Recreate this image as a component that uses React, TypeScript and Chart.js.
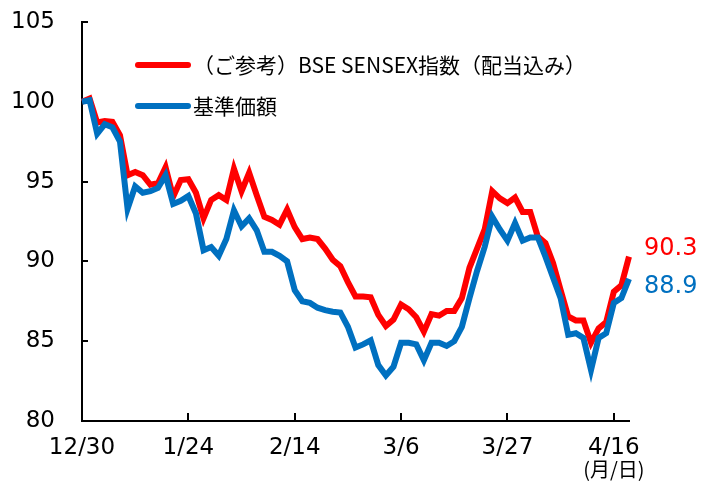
import React, { useEffect, useRef } from "react";
import { Chart, registerables } from "chart.js";

Chart.register(...registerables);

const dates = [
  "12/30",
  "1/6", "1/7", "1/8", "1/9", "1/10",
  "1/14", "1/15", "1/16", "1/17",
  "1/20", "1/21", "1/22", "1/23", "1/24",
  "1/27", "1/28", "1/29", "1/30", "1/31",
  "2/3", "2/4", "2/5", "2/6", "2/7",
  "2/10", "2/12", "2/13", "2/14",
  "2/17", "2/18", "2/19", "2/20", "2/21",
  "2/24", "2/25", "2/26", "2/27", "2/28",
  "3/3", "3/4", "3/5", "3/6",
  "3/7",
  "3/10", "3/11", "3/12", "3/13", "3/14",
  "3/17", "3/18", "3/19", "3/21",
  "3/24", "3/25", "3/26", "3/27",
  "3/28",
  "3/31", "4/1", "4/2", "4/3", "4/4",
  "4/7", "4/8", "4/9", "4/10", "4/11",
  "4/14", "4/15", "4/16",
  "4/17", "4/18",
];

const sensex = [
  100.0, 100.2, 98.7, 98.8, 98.75, 97.9, 95.4, 95.6, 95.4, 94.8,
  94.9, 95.9, 94.05, 95.1, 95.15, 94.3, 92.7, 93.85, 94.15, 93.85,
  95.8, 94.4, 95.55, 94.15, 92.8, 92.6, 92.3, 93.25, 92.15, 91.4,
  91.5, 91.4, 90.8, 90.1, 89.7, 88.7, 87.8, 87.8, 87.75, 86.65,
  85.95, 86.35, 87.3, 87.0, 86.5, 85.6, 86.7, 86.6, 86.9, 86.9,
  87.7, 89.6, 90.8, 92.0, 94.4, 93.95, 93.65, 94.0, 93.1, 93.1,
  91.55, 91.15, 89.9, 88.2, 86.55, 86.3, 86.3, 84.9, 85.8, 86.2,
  88.1, 88.5, 90.3,
];

const nav = [
  100.0, 100.1, 98.0, 98.6, 98.4, 97.5, 93.3, 94.7, 94.3, 94.4,
  94.6, 95.4, 93.6, 93.8, 94.1, 93.0, 90.7, 90.9, 90.35, 91.4,
  93.2, 92.2, 92.7, 91.95, 90.6, 90.6, 90.35, 90.0, 88.2, 87.5,
  87.4, 87.1, 86.95, 86.85, 86.8, 85.9, 84.6, 84.8, 85.05, 83.5,
  82.85, 83.4, 84.9, 84.9, 84.8, 83.8, 84.9, 84.9, 84.7, 85.0,
  85.9, 87.7, 89.4, 90.9, 92.8, 92.0, 91.3, 92.4, 91.3, 91.5,
  91.5, 90.3, 89.0, 87.7, 85.4, 85.5, 85.2, 83.2, 85.2, 85.5,
  87.4, 87.7, 88.9,
];

const seriesNames = ["（ご参考）BSE SENSEX指数（配当込み）", "基準価額"];
const seriesColors = ["#FF0000", "#0070C0"];
const yMin = 80;
const yMax = 105;
const yStep = 5;
const tickEvery = 14;
const lastTickIndex = 70;
const unitLabel = "(月/日)";

const decorPlugin = {
  id: "decor",
  beforeDatasetsDraw(chart: any) {
    const { ctx, chartArea } = chart;
    const xs = chart.scales.x;
    const ys = chart.scales.y;
    ctx.save();
    ctx.strokeStyle = "#000";
    ctx.lineWidth = 2;
    ctx.beginPath();
    for (let i = tickEvery; i <= lastTickIndex; i += tickEvery) {
      const px = Math.round(xs.getPixelForValue(i));
      ctx.moveTo(px, chartArea.bottom);
      ctx.lineTo(px, chartArea.bottom - 8);
    }
    ys.ticks.forEach((_t: any, i: number) => {
      const py = Math.round(ys.getPixelForTick(i));
      ctx.moveTo(chartArea.left, py);
      ctx.lineTo(chartArea.left + 6, py);
    });
    ctx.stroke();
    ctx.restore();
  },
  afterDraw(chart: any) {
    const { ctx } = chart;
    const xs = chart.scales.x;
    ctx.save();
    // legend
    const legendY = [65, 106];
    seriesNames.forEach((name, i) => {
      ctx.strokeStyle = seriesColors[i];
      ctx.lineWidth = 6;
      ctx.lineCap = "round";
      ctx.beginPath();
      ctx.moveTo(138, legendY[i]);
      ctx.lineTo(188, legendY[i]);
      ctx.stroke();
      ctx.fillStyle = "#000";
      ctx.font = '21px "Noto Sans CJK JP"';
      ctx.textBaseline = "middle";
      ctx.textAlign = "left";
      ctx.fillText(name, 193, legendY[i]);
    });
    // end labels
    chart.data.datasets.forEach((ds: any, di: number) => {
      const meta = chart.getDatasetMeta(di);
      const pt = meta.data[meta.data.length - 1];
      const v = ds.data[ds.data.length - 1];
      ctx.fillStyle = ds.borderColor;
      ctx.font = '24px "DejaVu Sans"';
      ctx.textBaseline = "middle";
      ctx.textAlign = "left";
      ctx.fillText(v.toFixed(1), pt.x + 15, pt.y + ds.labelShift);
    });
    // unit label
    ctx.fillStyle = "#000";
    ctx.font = '20px "Noto Sans CJK JP"';
    ctx.textAlign = "center";
    ctx.textBaseline = "middle";
    ctx.fillText(unitLabel, xs.getPixelForValue(lastTickIndex), 469);
    ctx.restore();
  },
};

export default function App() {
  const ref = useRef<HTMLCanvasElement | null>(null);

  useEffect(() => {
    if (!ref.current) return;
    const chart = new Chart(ref.current, {
      type: "line",
      data: {
        labels: dates,
        datasets: [
          {
            label: seriesNames[1],
            data: nav,
            borderColor: seriesColors[1],
            backgroundColor: seriesColors[1],
            borderWidth: 6,
            pointRadius: 0,
            tension: 0,
            order: 1,
            labelShift: 8,
          } as any,
          {
            label: seriesNames[0],
            data: sensex,
            borderColor: seriesColors[0],
            backgroundColor: seriesColors[0],
            borderWidth: 6,
            pointRadius: 0,
            tension: 0,
            order: 2,
            labelShift: -8,
          } as any,
        ],
      },
      options: {
        responsive: false,
        animation: false,
        layout: { padding: { top: 22, right: 84, left: 0, bottom: 0 } },
        plugins: {
          legend: { display: false },
          tooltip: { enabled: false },
        },
        scales: {
          x: {
            type: "category",
            offset: false,
            grid: { display: true, drawOnChartArea: false, drawTicks: false },
            border: { display: true, color: "#000", width: 2 },
            ticks: {
              autoSkip: false,
              maxRotation: 0,
              minRotation: 0,
              padding: 13,
              color: "#000",
              font: { family: "DejaVu Sans", size: 23 },
              callback: (_v: any, i: number) =>
                i % tickEvery === 0 && i <= lastTickIndex ? dates[i] : "",
            },
            afterFit: (s: any) => {
              s.height = 60;
            },
          },
          y: {
            min: yMin,
            max: yMax,
            grid: { display: true, drawOnChartArea: false, drawTicks: false },
            border: { display: true, color: "#000", width: 2 },
            ticks: {
              stepSize: yStep,
              padding: 27,
              color: "#000",
              font: { family: "DejaVu Sans", size: 23 },
            },
            afterFit: (s: any) => {
              s.width = 82;
              s.paddingTop = 0;
              s.paddingBottom = 0;
            },
          },
        },
      },
      plugins: [decorPlugin],
    });
    return () => chart.destroy();
  }, []);

  return (
    <div style={{ position: "absolute", left: 0, top: 0, width: 713, height: 481, background: "#fff" }}>
      <canvas ref={ref} width={713} height={481} style={{ display: "block" }} />
    </div>
  );
}
